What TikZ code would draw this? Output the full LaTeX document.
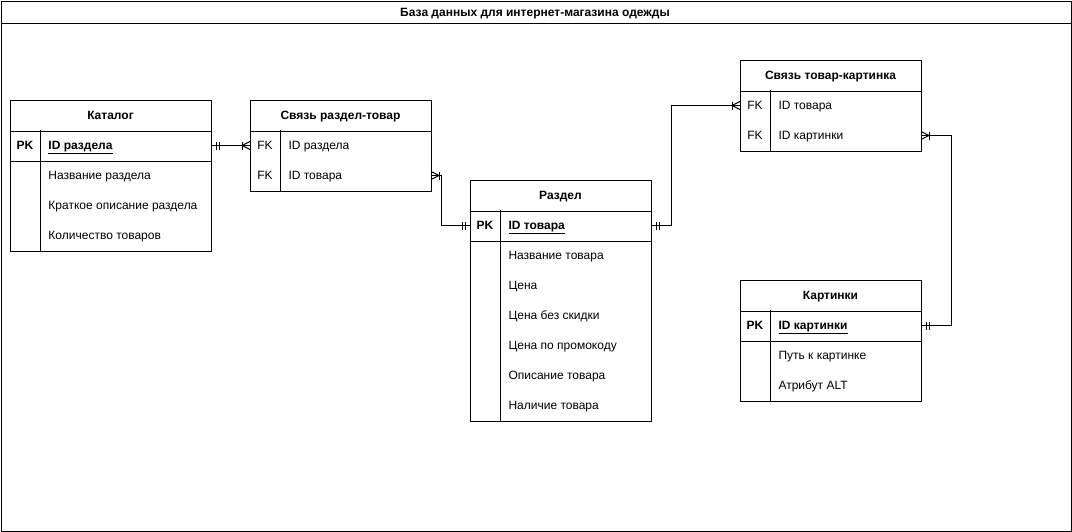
\documentclass[tikz,border=0pt]{standalone}
\usepackage{fontspec}
\setmainfont{Liberation Sans}
\usetikzlibrary{calc}
\newcommand\erhead[5]{%
  \node[hdrbox, minimum width=#4] (#1) at (#2,#3) {};
  \node[txt, anchor=base, font=\fontsize{12}{14}\selectfont\bfseries] (#1-t) at ($(#1.center)+(0,4.3)$) {#5};}
\newcommand\errow[6]{%
  \node[rowbox, minimum width=#4] (#1) at (#2,#3) {};
  \node[txt, anchor=base] (#1-k) at ($(#1.west)+(15,4.3)$) {#5};
  \node[txt, anchor=base west] (#1-f) at ($(#1.west)+(38,4.3)$) {#6};}
\newcommand\erframe[3]{% header, first row, last row
  \draw (#1.north west) rectangle (#3.south east);
  \draw (#1.south west) -- (#1.south east);
  \draw (#2.south west) -- (#2.south east);
  \draw ($(#2.north west)+(30,0)$) -- ($(#3.south west)+(30,0)$);}
\newcommand\erframeplain[3]{%
  \draw (#1.north west) rectangle (#3.south east);
  \draw (#1.south west) -- (#1.south east);
  \draw ($(#2.north west)+(30,0)$) -- ($(#3.south west)+(30,0)$);}
\newcommand\mandone[2]{%
  \draw ($#1+(#2*5,-4)$) -- ++(0,8);
  \draw ($#1+(#2*8,-4)$) -- ++(0,8);}
\newcommand\crowfoot[2]{%
  \draw ($#1+(#2*8,0)$) -- ($#1+(0,-4)$);
  \draw ($#1+(#2*8,0)$) -- ($#1+(0,4)$);
  \draw ($#1+(#2*8,-4)$) -- ++(0,8);}
\begin{document}
\begin{tikzpicture}[x=1pt,y=-1pt,line width=1pt,
  every node/.style={inner sep=0pt,font=\fontsize{12}{14}\selectfont},
  hdrbox/.style={anchor=north west,minimum height=30pt},
  rowbox/.style={anchor=north west,minimum height=30pt},
  txt/.style={font=\fontsize{12}{14}\selectfont},
  conn/.style={draw,line width=1pt}]
\useasboundingbox (0,0) rectangle (1072,531);
\node[draw,anchor=north west,minimum width=1070pt,minimum height=530pt] (frame) at (0.5,0.5) {};
\draw (frame.north west) ++(0,23) -- ($(frame.north east)+(0,23)$);
\node[anchor=base,font=\fontsize{12}{14}\selectfont\bfseries] (title) at (535,16.5) {База данных для интернет-магазина одежды};

% Каталог
\erhead{cat-h}{10}{100}{200pt}{Каталог}
\errow{cat-1}{10}{130}{200pt}{\bfseries PK}{\bfseries\underline{ID раздела}}
\errow{cat-2}{10}{160}{200pt}{}{Название раздела}
\errow{cat-3}{10}{190}{200pt}{}{Краткое описание раздела}
\errow{cat-4}{10}{220}{200pt}{}{Количество товаров}
\erframe{cat-h}{cat-1}{cat-4}

% Связь раздел-товар
\erhead{rt-h}{250}{100}{180pt}{Связь раздел-товар}
\errow{rt-1}{250}{130}{180pt}{FK}{ID раздела}
\errow{rt-2}{250}{160}{180pt}{FK}{ID товара}
\erframeplain{rt-h}{rt-1}{rt-2}

% Раздел
\erhead{raz-h}{470}{180}{180pt}{Раздел}
\errow{raz-1}{470}{210}{180pt}{\bfseries PK}{\bfseries\underline{ID товара}}
\errow{raz-2}{470}{240}{180pt}{}{Название товара}
\errow{raz-3}{470}{270}{180pt}{}{Цена}
\errow{raz-4}{470}{300}{180pt}{}{Цена без скидки}
\errow{raz-5}{470}{330}{180pt}{}{Цена по промокоду}
\errow{raz-6}{470}{360}{180pt}{}{Описание товара}
\errow{raz-7}{470}{390}{180pt}{}{Наличие товара}
\erframe{raz-h}{raz-1}{raz-7}

% Связь товар-картинка
\erhead{stk-h}{740}{60}{180pt}{Связь товар-картинка}
\errow{stk-1}{740}{90}{180pt}{FK}{ID товара}
\errow{stk-2}{740}{120}{180pt}{FK}{ID картинки}
\erframeplain{stk-h}{stk-1}{stk-2}

% Картинки
\erhead{pic-h}{740}{280}{180pt}{Картинки}
\errow{pic-1}{740}{310}{180pt}{\bfseries PK}{\bfseries\underline{ID картинки}}
\errow{pic-2}{740}{340}{180pt}{}{Путь к картинке}
\errow{pic-3}{740}{370}{180pt}{}{Атрибут ALT}
\erframe{pic-h}{pic-1}{pic-3}

% connectors
\draw[conn] (cat-1.east) -- (rt-1.west);
\mandone{(cat-1.east)}{1}
\crowfoot{(rt-1.west)}{-1}

\draw[conn] (rt-2.east) -- ++(10,0) |- (raz-1.west);
\crowfoot{(rt-2.east)}{1}
\mandone{(raz-1.west)}{-1}

\draw[conn] (raz-1.east) -- ++(20,0) |- (stk-1.west);
\mandone{(raz-1.east)}{1}
\crowfoot{(stk-1.west)}{-1}

\draw[conn] (stk-2.east) -- ++(30,0) |- (pic-1.east);
\crowfoot{(stk-2.east)}{1}
\mandone{(pic-1.east)}{1}
\end{tikzpicture}
\end{document}
